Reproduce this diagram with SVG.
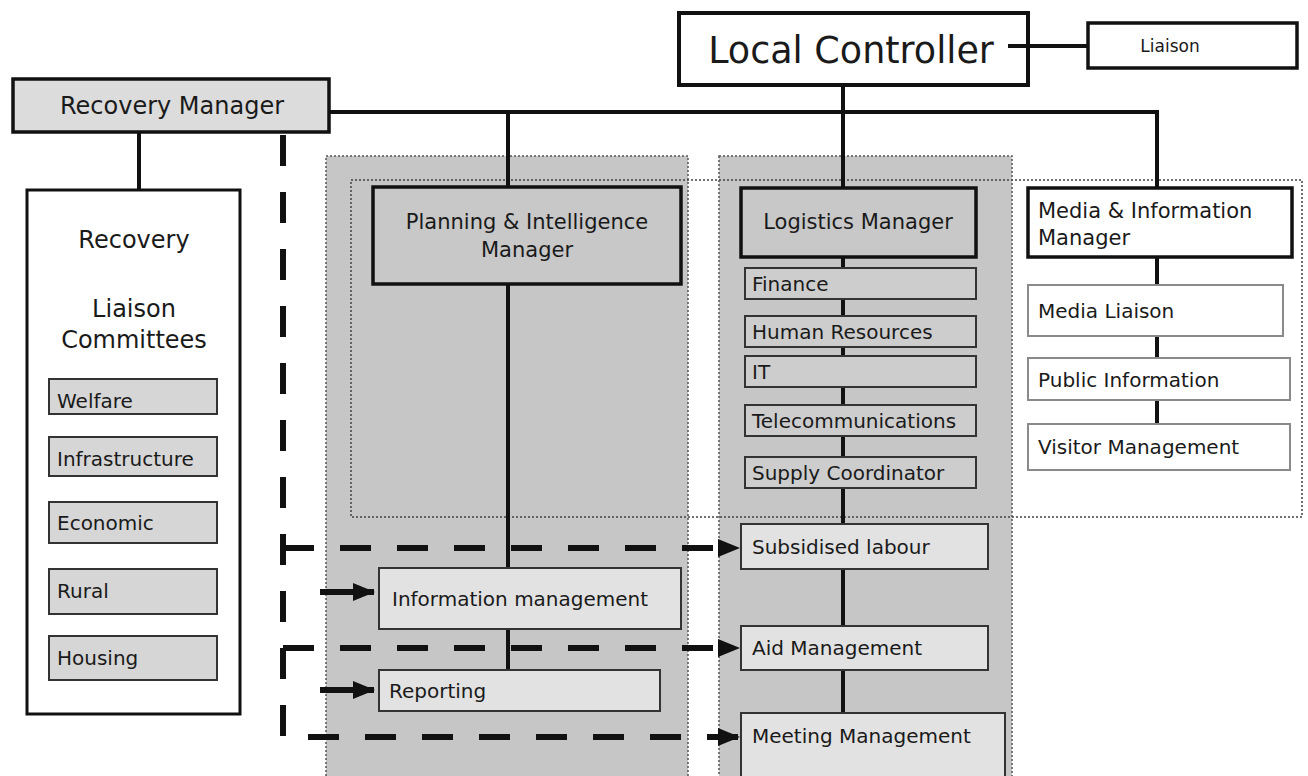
<svg xmlns="http://www.w3.org/2000/svg" width="1308" height="776" viewBox="0 0 1308 776">
  <defs>
    <marker id="arrow" markerUnits="userSpaceOnUse" markerWidth="22" markerHeight="18" refX="21" refY="9" orient="auto">
      <path d="M0,0 L22,9 L0,18 Z" fill="#111"/>
    </marker>
    <style>
      text { font-family: "DejaVu Sans", "Liberation Sans", sans-serif; fill: #1a1a1a; }
      .panel { fill: #c6c6c6; stroke: #555; stroke-width: 1.5; stroke-dasharray: 2 2; }
      .group { fill: none; stroke: #444; stroke-width: 1.5; stroke-dasharray: 2 2; }
      .boss { fill: #fff; stroke: #111; stroke-width: 4; }
      .mgr { fill: #c8c8c8; stroke: #111; stroke-width: 3.5; }
      .mgrw { fill: #fff; stroke: #111; stroke-width: 3.5; }
      .rm { fill: #dcdcdc; stroke: #111; stroke-width: 3.5; }
      .comm { fill: #fff; stroke: #111; stroke-width: 3; }
      .sub { fill: #d6d6d6; stroke: #333; stroke-width: 2; }
      .lsub { fill: #cdcdcd; stroke: #333; stroke-width: 2; }
      .task { fill: #e2e2e2; stroke: #333; stroke-width: 2; }
      .media { fill: #fff; stroke: #8a8a8a; stroke-width: 2; }
      .line { fill: none; stroke: #111; stroke-width: 4; }
      .dash { fill: none; stroke: #111; stroke-width: 6; stroke-dasharray: 31 26; }
      .arr { fill: none; stroke: #111; stroke-width: 6; }
      .t20 { font-size: 20px; }
      .t21 { font-size: 21px; }
    </style>
  </defs>

  <rect width="1308" height="776" fill="#fff"/>

  <!-- shaded functional areas -->
  <g id="areas">
    <rect class="panel" x="326" y="156" width="362" height="630"/>
    <rect class="panel" x="719" y="156" width="293" height="630"/>
    <rect class="group" x="351" y="180" width="951" height="337"/>
  </g>

  <!-- connectors -->
  <g id="connectors">
    <path class="line" d="M329,112 H1157 V188"/>
    <path class="line" d="M508,112 V187"/>
    <path class="line" d="M843,86 V187"/>
    <path class="line" d="M139,132 V190"/>
    <path class="line" d="M1008,46 H1088"/>
    <path class="line" d="M508,284 V670"/>
    <path class="line" d="M843,257 V713"/>
    <path class="line" d="M1157,257 V424"/>
    <path class="dash" d="M283,135 V737 H739" marker-end="url(#arrow)"/>
    <path class="dash" d="M283,548 H739" marker-end="url(#arrow)"/>
    <path class="dash" d="M283,648 H739" marker-end="url(#arrow)"/>
    <path class="arr" d="M320,592 H374" marker-end="url(#arrow)"/>
    <path class="arr" d="M320,690 H374" marker-end="url(#arrow)"/>
  </g>

  <g id="local-controller">
    <rect class="boss" x="679" y="13" width="349" height="72"/>
    <text x="851" y="63" font-size="36.5" text-anchor="middle">Local Controller</text>
    <path d="M1008,46 H1026" stroke="#111" stroke-width="4"/>
  </g>

  <g id="liaison">
    <rect class="mgrw" x="1088" y="23" width="209" height="45"/>
    <text x="1170" y="52" font-size="17" text-anchor="middle">Liaison</text>
  </g>

  <g id="recovery-manager">
    <rect class="rm" x="13" y="79" width="316" height="53"/>
    <text x="172" y="114" font-size="24" text-anchor="middle">Recovery Manager</text>
  </g>

  <g id="recovery-committees">
    <rect class="comm" x="27" y="190" width="213" height="524"/>
    <text x="134" y="248" font-size="24" text-anchor="middle">Recovery</text>
    <text x="134" y="317" font-size="24" text-anchor="middle">Liaison</text>
    <text x="134" y="348" font-size="24" text-anchor="middle">Committees</text>
  </g>
  <g id="welfare">
    <rect class="sub" x="49" y="379" width="168" height="35"/>
    <text class="t20" x="57" y="408">Welfare</text>
  </g>
  <g id="infrastructure">
    <rect class="sub" x="49" y="437" width="168" height="39"/>
    <text class="t20" x="57" y="466">Infrastructure</text>
  </g>
  <g id="economic">
    <rect class="sub" x="49" y="502" width="168" height="41"/>
    <text class="t20" x="57" y="530">Economic</text>
  </g>
  <g id="rural">
    <rect class="sub" x="49" y="569" width="168" height="45"/>
    <text class="t20" x="57" y="598">Rural</text>
  </g>
  <g id="housing">
    <rect class="sub" x="49" y="636" width="168" height="44"/>
    <text class="t20" x="57" y="665">Housing</text>
  </g>

  <g id="planning-manager">
    <rect class="mgr" x="373" y="187" width="308" height="97"/>
    <text class="t21" x="527" y="229" text-anchor="middle">Planning &amp; Intelligence</text>
    <text class="t21" x="527" y="257" text-anchor="middle">Manager</text>
  </g>
  <g id="information-management">
    <rect class="task" x="379" y="568" width="302" height="61"/>
    <text class="t20" x="392" y="606">Information management</text>
  </g>
  <g id="reporting">
    <rect class="task" x="379" y="670" width="281" height="41"/>
    <text class="t20" x="389" y="698">Reporting</text>
  </g>

  <g id="logistics-manager">
    <rect class="mgr" x="741" y="188" width="235" height="69"/>
    <text class="t21" x="858" y="229" text-anchor="middle">Logistics Manager</text>
  </g>
  <g id="finance">
    <rect class="lsub" x="745" y="268" width="231" height="31"/>
    <text class="t20" x="752" y="291">Finance</text>
  </g>
  <g id="human-resources">
    <rect class="lsub" x="745" y="316" width="231" height="31"/>
    <text class="t20" x="752" y="339">Human Resources</text>
  </g>
  <g id="it">
    <rect class="lsub" x="745" y="356" width="231" height="31"/>
    <text class="t20" x="752" y="379">IT</text>
  </g>
  <g id="telecommunications">
    <rect class="lsub" x="745" y="405" width="231" height="31"/>
    <text class="t20" x="752" y="428">Telecommunications</text>
  </g>
  <g id="supply-coordinator">
    <rect class="lsub" x="745" y="457" width="231" height="31"/>
    <text class="t20" x="752" y="480">Supply Coordinator</text>
  </g>
  <g id="subsidised-labour">
    <rect class="task" x="741" y="524" width="247" height="45"/>
    <text class="t20" x="752" y="554">Subsidised labour</text>
  </g>
  <g id="aid-management">
    <rect class="task" x="741" y="626" width="247" height="44"/>
    <text class="t20" x="752" y="655">Aid Management</text>
  </g>
  <g id="meeting-management">
    <rect class="task" x="741" y="713" width="264" height="70"/>
    <text class="t20" x="752" y="743">Meeting Management</text>
  </g>

  <g id="media-manager">
    <rect class="mgrw" x="1028" y="188" width="264" height="69"/>
    <text class="t21" x="1038" y="218">Media &amp; Information</text>
    <text class="t21" x="1038" y="245">Manager</text>
  </g>
  <g id="media-liaison">
    <rect class="media" x="1028" y="285" width="255" height="51"/>
    <text class="t20" x="1038" y="318">Media Liaison</text>
  </g>
  <g id="public-information">
    <rect class="media" x="1028" y="358" width="262" height="42"/>
    <text class="t20" x="1038" y="387">Public Information</text>
  </g>
  <g id="visitor-management">
    <rect class="media" x="1028" y="424" width="262" height="46"/>
    <text class="t20" x="1038" y="454">Visitor Management</text>
  </g>
</svg>
